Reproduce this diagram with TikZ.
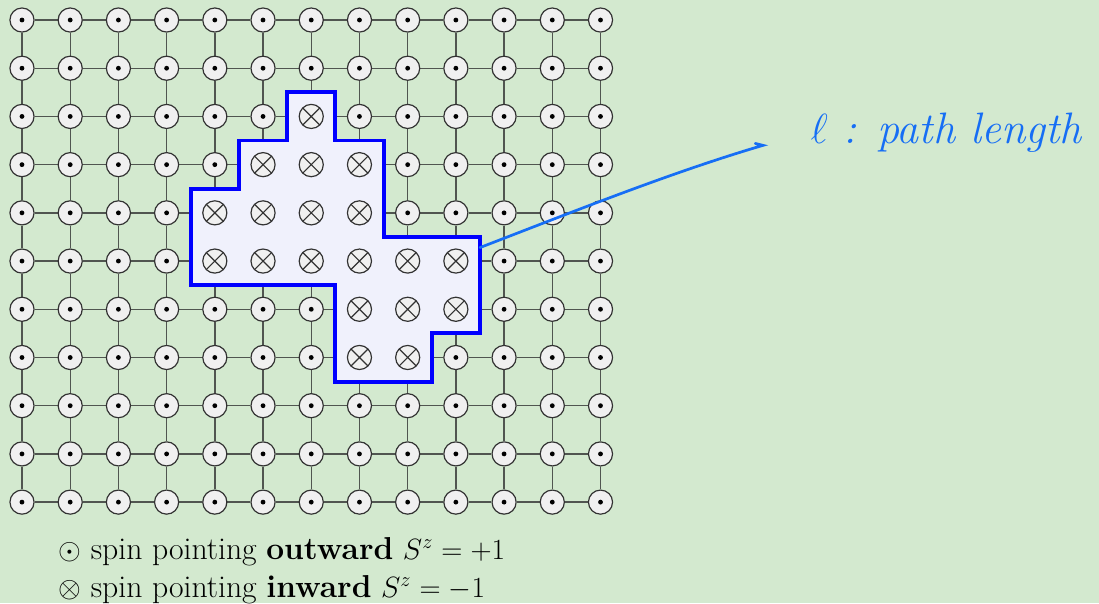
\documentclass[tikz,border=0pt]{standalone}
\usetikzlibrary{backgrounds}
\definecolor{paper}{RGB}{211,233,207}
\definecolor{sitefill}{RGB}{240,240,240}
\definecolor{sitedraw}{RGB}{50,50,50}
\definecolor{bondcol}{RGB}{80,85,80}
\definecolor{domainfill}{RGB}{240,241,252}
\definecolor{penblue}{RGB}{22,110,245}
\tikzset{
  spinup/.style={circle, draw=sitedraw, fill=sitefill, line width=0.7pt, minimum size=0.5cm, inner sep=0pt,
    path picture={\fill[black] (path picture bounding box.center) circle (0.05);}},
  spindown/.style={circle, draw=sitedraw, fill=sitefill, line width=0.7pt, minimum size=0.5cm, inner sep=0pt,
    path picture={\draw[sitedraw, line width=0.7pt] (path picture bounding box.north west) -- (path picture bounding box.south east)
      (path picture bounding box.north east) -- (path picture bounding box.south west);}},
  bond/.style={draw=bondcol, line width=0.8pt},
  domainwall/.style={draw=blue, line width=2.3pt},
  pen/.style={draw=penblue, line width=1.6pt, line cap=round}
}
\begin{document}
\begin{tikzpicture}
\useasboundingbox (-0.456,0.415) rectangle (22.34,-12.10);
\foreach \j/\a/\b in {0/99/-1, 1/99/-1, 2/6/6, 3/5/7, 4/4/7, 5/4/9, 6/7/9, 7/7/8, 8/99/-1, 9/99/-1, 10/99/-1} {
  \foreach \i in {0,...,12} {
    \def\spin{spinup}
    \ifnum\i<\a \else \ifnum\i>\b \else \def\spin{spindown}\fi\fi
    \node[\spin] (n-\i-\j) at (\i,-\j) {};
  }
}
\begin{pgfonlayer}{background}
\fill[paper] (-0.456,0.415) rectangle (22.34,-12.10);
\foreach \j in {0,...,10} {
  \foreach \i in {0,...,11} {
    \pgfmathtruncatemacro\k{\i+1}
    \draw[bond] (n-\i-\j) -- (n-\k-\j);
  }
}
\foreach \i in {0,...,12} {
  \foreach \j in {0,...,9} {
    \pgfmathtruncatemacro\k{\j+1}
    \draw[bond] (n-\i-\j) -- (n-\i-\k);
  }
}
\fill[domainfill] (5.5,-1.5) -- (6.5,-1.5) -- (6.5,-2.5) -- (7.5,-2.5) -- (7.5,-4.5) -- (9.5,-4.5) -- (9.5,-6.5)
  -- (8.5,-6.5) -- (8.5,-7.5) -- (6.5,-7.5) -- (6.5,-5.5) -- (3.5,-5.5) -- (3.5,-3.5) -- (4.5,-3.5)
  -- (4.5,-2.5) -- (5.5,-2.5) -- cycle;
\end{pgfonlayer}
\draw[domainwall] (5.5,-1.5) -- (6.5,-1.5) -- (6.5,-2.5) -- (7.5,-2.5) -- (7.5,-4.5) -- (9.5,-4.5) -- (9.5,-6.5)
  -- (8.5,-6.5) -- (8.5,-7.5) -- (6.5,-7.5) -- (6.5,-5.5) -- (3.5,-5.5) -- (3.5,-3.5) -- (4.5,-3.5)
  -- (4.5,-2.5) -- (5.5,-2.5) -- cycle;
\coordinate (wall) at (9.5,-4.72);
\coordinate (tip) at (15.37,-2.60);
\coordinate (hook) at (15.21,-2.56);
\node[anchor=base west, text=penblue, font=\fontsize{26}{30}\selectfont\itshape, inner sep=0pt] (lbl) at (16.35,-2.56) {$\ell$ : path length};
\draw[pen] (wall) .. controls (11.5,-3.95) and (13.5,-3.15) .. (tip) -- (hook);
\node[anchor=base west, inner sep=0pt, font=\fontsize{18.7}{22}\selectfont] (legup) at (0.75,-11.19) {$\odot$ spin pointing \textbf{outward} $S^z=+1$};
\node[anchor=base west, inner sep=0pt, font=\fontsize{18.7}{22}\selectfont] (legdown) at (0.75,-11.98) {$\otimes$ spin pointing \textbf{inward} $S^z=-1$};
\end{tikzpicture}
\end{document}
